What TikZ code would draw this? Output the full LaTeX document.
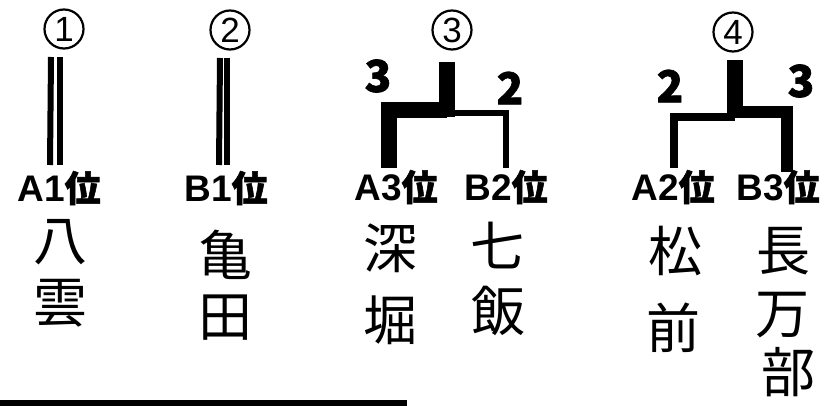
\documentclass[tikz,border=0pt]{standalone}
\usepackage{fontspec}
\newfontfamily\jp{Noto Sans CJK JP}
\newfontfamily\jpb{Noto Sans CJK JP}[FakeBold=1.5]
\newfontfamily\arial{Liberation Sans}
\newcommand{\rk}[2]{{\arial\bfseries\fontsize{37}{37}\selectfont #1}{\jpb\bfseries\fontsize{36}{36}\selectfont #2}}
\begin{document}
\begin{tikzpicture}[x=1pt,y=-1pt,
  circnum/.style={circle,draw,line width=2.2pt,minimum size=39pt,inner sep=0pt,font=\arial\fontsize{35}{35}\selectfont},
  rank/.style={inner sep=0pt},
  hand/.style={inner sep=0pt,font=\jp\fontsize{54}{54}\selectfont},
  seed/.style={inner sep=0pt,font=\jpb\bfseries\fontsize{44}{44}\selectfont},
  thickline/.style={line width=16pt},
  thinline/.style={line width=6pt},
  dbl/.style={line width=6pt}]
\useasboundingbox (0,0) rectangle (833,406);
% circled numbers
\node[circnum] (c1) at (64,29) {1};
\node[circnum] (c2) at (230,30) {2};
\node[circnum] (c3) at (452,30) {3};
\node[circnum] (c4) at (733,32) {4};
% ranks
\node[rank] (r1) at (59,188) {\rk{A1}{位}};
\node[rank] (r2) at (226,188) {\rk{B1}{位}};
\node[rank] (r3) at (396,187) {\rk{A3}{位}};
\node[rank] (r4) at (506,187) {\rk{B2}{位}};
\node[rank] (r5) at (673,187) {\rk{A2}{位}};
\node[rank] (r6) at (778,187) {\rk{B3}{位}};
% coordinates
\coordinate (a1t) at (51,57); \coordinate (a1b) at (50,165);
\coordinate (a2t) at (60,57); \coordinate (a2b) at (60,165);
\coordinate (b1t) at (220,58); \coordinate (b1b) at (219,165);
\coordinate (b2t) at (227,58); \coordinate (b2b) at (227,165);
% 1 and 2
\draw[dbl] (a1t) -- (a1b);
\draw[dbl] (a2t) -- (a2b);
\draw[dbl] (b1t) -- (b1b);
\draw[dbl] (b2t) -- (b2b);
% bracket 3
\coordinate (s3t) at (447,62); \coordinate (s3b) at (447,117);
\coordinate (l3) at (389,168); \coordinate (l3c) at (389,110); \coordinate (m3) at (447,110);
\coordinate (m3r) at (447,113); \coordinate (r3c) at (506,113); \coordinate (r3e) at (506,168);
\draw[thickline] (s3t) -- (s3b);
\draw[thickline,line join=miter] (l3) -- (l3c) -- (m3);
\draw[thinline,line join=miter] (m3r) -- (r3c) -- (r3e);
\node[seed] (n3a) at (378,76) {3};
\node[seed] (n3b) at (510,88) {2};
% bracket 4
\coordinate (s4t) at (735,60); \coordinate (s4b) at (735,118);
\coordinate (l4) at (674,168); \coordinate (l4c) at (674,117); \coordinate (m4) at (735,117);
\coordinate (m4r) at (735,112); \coordinate (r4c) at (787,112); \coordinate (r4e) at (787,172);
\draw[thickline] (s4t) -- (s4b);
\draw[line width=8pt,line join=miter] (l4) -- (l4c) -- (m4);
\draw[line width=12pt,line join=miter] (m4r) -- (r4c) -- (r4e);
\node[seed] (n4a) at (670,86) {2};
\node[seed] (n4b) at (801,81) {3};
% names
\node[hand] (h1) at (60,242) {八};
\node[hand] (h2) at (60,303) {雲};
\node[hand] (h3) at (225,255) {亀};
\node[hand] (h4) at (225,318) {田};
\node[hand] (h5) at (390,248) {深};
\node[hand] (h6) at (390,320) {堀};
\node[hand] (h7) at (497,245) {七};
\node[hand] (h8) at (498,311) {飯};
\node[hand] (h9) at (675,251) {松};
\node[hand] (h10) at (673,328) {前};
\node[hand] (h11) at (783,251) {長};
\node[hand] (h12) at (782,315) {万};
\node[hand] (h13) at (788,372) {部};
% bottom rule
\coordinate (bl) at (0,403); \coordinate (br) at (407,403);
\draw[dbl] (bl) -- (br);
\end{tikzpicture}
\end{document}
